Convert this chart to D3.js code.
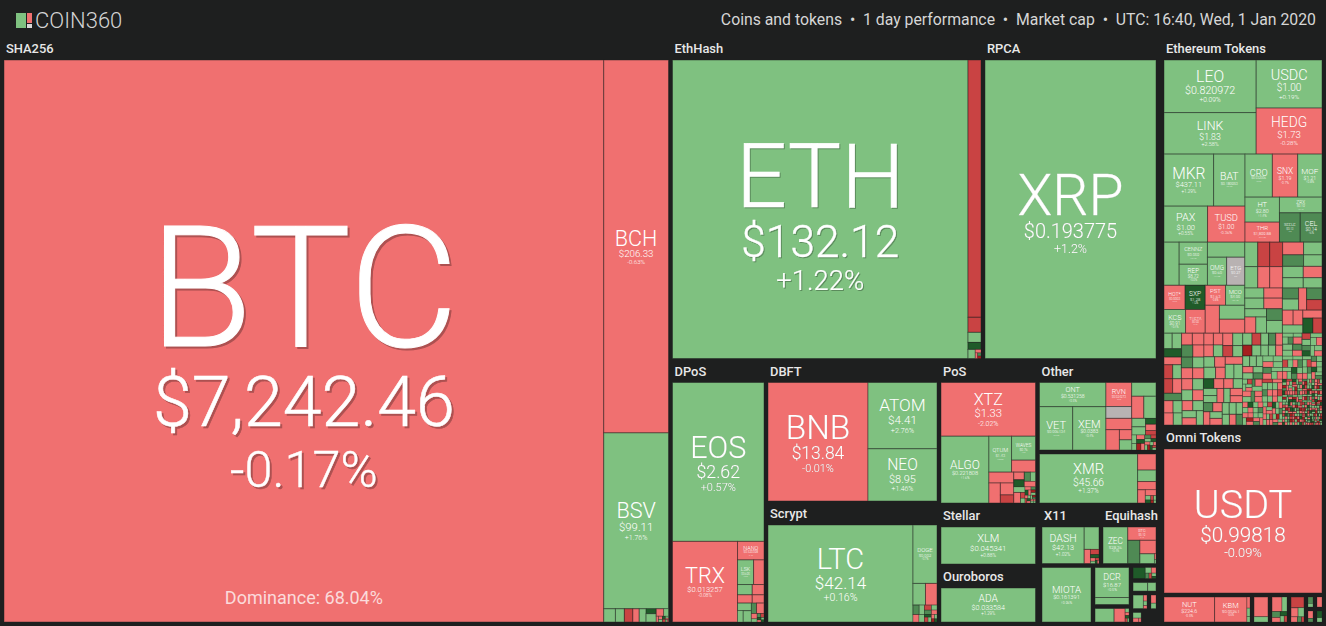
<!DOCTYPE html>
<html>
<head>
<meta charset="utf-8">
<script src="https://cdnjs.cloudflare.com/ajax/libs/d3/7.8.5/d3.min.js"></script>
<style>
html, body { margin: 0; padding: 0; background: #1e1f1f; overflow: hidden; }
text { font-family: Roboto, sans-serif; }
</style>
</head>
<body>
<script>
var width = 1326,
	height = 626;

// rows are [value, % change, name, price], name and price only where the cell is labelled
var sha256Rows = [[336638,-0.17,'BTC','$7,242.46'],[24115,-0.63,'BCH','$206.33'],[11375,1.76,'BSV','$99.11'],
	[154,0.6],[118,0.7],[112,-4.5],[84,-0.5],[90,0.4],[50,12],[84,0.5],[56,-0.5],[35,1],[14,-0.5],[12,-0.6],[10,0.5],[9,13],[8,-7],[6,0.4],[5,-0.5],[4,0.8],[3,-0.4]];
var ethHashRows = [[87910,1.22,'ETH','$132.12'],[3328,-4.6],[195,-4.5],[130,0.5],[91,12],[65,0.6],[20,-0.5],[14,-4],[10,6],[8,-12]];
var rpcaRows = [[50958,1.2,'XRP','$0.193775']];
var dposRows = [[14378,0.57,'EOS','$2.62'],[5184,-0.08,'TRX','$0.013257'],[486,-0.4,'NANO','$0.520398'],[391,0.6,'LSK','$0.695'],[253,-0.7],[150,0.5],[120,-0.4],[120,-0.6],[96,-0.8],[104,0.6],[63,0.4],[91,0.8],[54,6],[78,-0.9],[30,-0.5],[18,0.7],[14,6],[12,-7],[10,12],[8,-0.5],[7,0.7],[6,12]];
var dbftRows = [[11800,-0.01,'BNB','$13.84'],[4554,2.76,'ATOM','$4.41'],[3588,1.46,'NEO','$8.95']];
var scryptRows = [[14210,0.16,'LTC','$42.14'],[1416,0.7,'DOGE','$0.002'],[273,0.6],[252,-0.6],[60,6],[50,0.5],[44,-0.5],[40,0.7],[36,-6],[30,6],[28,0.6],[24,-0.5],[20,12],[18,-7],[16,0.5],[14,-0.4],[12,0.8],[10,-12],[8,12]];
var posRows = [[4888,-2.02,'XTZ','$1.33'],[3082,1.6,'ALGO','$0.221808'],[782,0.8,'QTUM','$1.43'],[552,1,'WAVES','$0.76'],[276,-0.7],[260,-0.6],[220,-0.8],[154,-0.7],[104,-5],[78,-0.5],[72,12],[54,6],[45,0.6],[60,-0.6],[60,0.6],[70,-0.9],
	[24,-7],[20,0.7],[18,-0.4],[16,12],[14,-0.6],[13,6],[12,-12],[11,0.5],[10,-0.5],[9,0.6],[8,-7],[8,12],[7,-0.5],[7,0.5],[6,-12],[6,6],[5,-0.6],[5,0.4],[4,-0.5],[4,0.7]];
var otherRows = [[1584,0.5,'ONT','$0.531258'],[1419,0.6,'VET','$0.006134'],[1419,0.4,'XEM','$0.0383'],[610,-0.9,'RVN','$0.024273'],[300,0],[330,0.7],[265,-0.6],[265,0.5],[290,-0.6],[270,-0.8],[125,-0.5],[125,0.6],[115,0.4],
	[110,0.7],[60,12],[66,-0.6],[44,-7],[40,0.5],[36,-0.6],[32,12],[30,0.6],[28,-12],[24,-0.5],[22,6],[20,0.6],[18,-7],[16,12],[16,-0.5],[14,0.4],[12,-12],[12,0.8],[10,-0.6],[10,12],[8,-7],[8,0.5]];
var cryptoNightRows = [[4560,1.37,'XMR','$45.66'],[280,-0.6],[200,0.7],[144,-0.5],[96,-0.8],[60,-0.6],[22,0.6],[16,12],[12,-7],[10,0.4],[8,-12],[6,0.7]];
var stellarRows = [[3492,0.88,'XLM','$0.045341']];
var ouroborosRows = [[3298,1.29,'ADA','$0.033584']];
var x11Rows = [[1394,1.02,'DASH','$42.13'],[300,0.7],[80,-0.7],[40,-5],[26,12],[14,-0.5],[10,0.6],[8,-7],[6,12],[5,-0.6]];
var equihashRows = [[850,0.4,'ZEC','$28.36'],[352,-0.7,'BTG','$5.19'],[264,6],[204,-0.8],[132,0.6],[8,-0.5],[6,0.7]];
var tangleRows = [[2646,0.96,'MIOTA','$0.161391']];
var decredRows = [[1020,0.5,'DCR','$16.87'],[238,0.7]];
var minorRowsA = [[247,0.6],[143,-0.7],[14,0.5],[12,-0.6],[10,12],[8,-7],[6,0.7]];
var minorRowsB = [[121,12],[30,0.6],[24,-0.7],[18,6],[14,-7],[12,0.5],[8,12]];
var minorRowsC = [[98,0.7],[56,0.5]];
var minorRowsD = [[104,0.6],[16,-0.7],[12,0.4],[8,-0.5]];
var minorRowsE = [[30,-0.6],[20,0.6]];
var minorRowsF = [[60,0.6],[30,-0.6],[12,-0.4]];
var omniRows = [[22752,-0.09,'USDT','$0.99818']];
var omniMinorRowsA = [[1200,-0.5,'NUT','$224.6'],[768,-0.6,'KBM','$0.00261'],[32,-0.5],[24,0.6],[16,0.5]];
var omniMinorRowsB = [[266,-0.7],[70,0.6]];
var omniMinorRowsC = [[120,-0.6],[60,0.7],[40,6],[30,-0.5],[24,12],[20,0.6],[14,-7]];
var omniMinorRowsD = [[130,-4.6],[60,-0.6],[50,0.7],[30,-0.5],[20,6],[12,-7]];
var omniMinorRowsE = [[24,6],[14,0.7]];
var omniMinorRowsF = [[20,-0.5],[10,6]];
var omniMinorRowsG = [[24,-0.6]];
var omniMinorRowsH = [[16,12],[10,0.6]];

var tokenRows = [[4784,0.09,'LEO','$0.820972'],[3772,2.58,'LINK','$1.83'],[3120,0.19,'USDC','$1.00'],[2990,-0.28,'HEDG','$1.73'],
	[2548,1.29,'MKR','$437.11'],[1612,0.9,'BAT','$0.180953'],[1548,0.55,'PAX','$1.00'],[1332,-0.36,'TUSD','$1.00'],
	[1161,0.6,'CRO','$0.032006'],[1075,-0.7,'SNX','$1.19'],[1032,0.8,'MOF','$1.21'],[850,1.4,'HT','$2.80'],[680,-0.57,'THR','$1,899.88'],[660,0.7,'ZRX','$0.19'],[600,6,'SEELE','$0.13'],[630,6,'CEL','$0.14'],
	[645,0.8],[616,0.5,'CENNZ','$0.059'],[588,0.9,'REP','$8.72'],[555,0.8],[532,1.1,'OMG','$0.60'],[504,0,'ETG','$0.27'],
	[504,-0.6,'HOT*','$0.0003'],[480,12,'SXP','$1.28'],[504,0.4,'KCS','$0.91'],[460,-0.5,'THETA','$0.09'],[400,-0.8,'PST','$1.63'],[380,0.7,'MCO','$4.00'],[392,-0.6],[350,0.7],[350,-0.7],
	[312,0.7],[288,-5],[312,-5],[273,0.8],[252,-0.7],[273,-0.6],
	[262,-0.6],[238,6],[231,0.7],[209,0.5],[231,0.6],[209,0.8],[210,-0.5],[190,0.7],
	[190,0.7],[200,0.6],[185,-0.6],[195,-0.5],[176,0.7],[176,-0.8],[170,0.6],[184,6],[200,0.5],
	[176,6],[176,0.7],[176,-0.5],[176,6],[160,-5],[157,-0.7],[143,-0.6],[165,0.5],[150,-0.6],[150,12],[135,-5]];

// long tail of the token block, cut in six runs left to right
var tokenTailValues = [
	126,144,144,126,135,135,132,132,120,120,120,120,121,121,110,110,110,110,121,121,110,110,110,110,132,110,130,124,124,124,
	130,130,120,120,115,115,110,110,110,105,105,105,100,100,100,100,95,95,95,95,90,90,90,90,85,85,85,85,80,80,80,80,75,75,70,70,
	110,105,100,95,90,85,82,80,78,75,72,70,68,66,64,62,60,58,56,54,52,50,48,46,44,42,40,38,36,34,
	62,60,58,56,54,52,50,48,46,45,44,43,42,41,40,39,38,37,36,36,35,35,34,34,33,33,32,32,31,31,30,30,29,29,28,28,27,27,26,26,25,25,24,24,23,23,22,22,21,21,
	50,48,46,44,42,40,39,38,37,36,35,34,33,32,32,31,31,30,30,29,29,28,28,28,27,27,27,26,26,26,25,25,25,24,24,24,23,23,23,22,22,22,21,21,21,20,20,20,19,19,19,18,18,18,17,17,17,16,16,16,
	13,13,12,12,12,12,12,11,11,11,11,11,11,11,11,11,11,11,11,10,
	10,10,10,10,10,10,10,10,10,10,10,10,10,10,10,10,10,10,10,10,
	10,10,10,10,10,10,10,9,9,9,9,9,9,9,9,9,9,9,9,9,
	9,9,9,9,9,9,9,9,9,9,9,9,9,9,9,9,9,9,9,9,
	9,9,9,8,8,8,8,8,8,8,8,8,8,8,8,8,8,8,8,8,
	8,8,8,8,8,8,8,8,8,8,8,8,8,8,8,8,8,8,8,8,
	8,8,8,7,7,7,7,7,7,7,7,7,7,7,7,7,7,7,7,7,
	7,7,7,7,7,7,7,7,7,7,7,7,7,7,7,7,7,7,7,7,
	7,7,7,7,6,6,6,6,6,6,6,6,6,6,6,6,6,6,6,6,
	6,6,6,6,6,6,6,6,6,6,6,6,6,6,6,6,6,6,6,6,
	5,5,5,5,5,5,5,5,5,5,5,5,5,5,5,5,5,5,5,5,
	5,5,5,5,4,4,4,4,4,4,4,4,4,4,4,4,4,4,4,4];
var tokenTailChanges = [
	1,1,12,-1,-1,6,-1,-1,-5,1,6,-1,1,-1,-1,-1,-1,1,-1,1,-5,1,1,-1,1,-1,-1,1,1,-5,
	-1,6,-1,1,1,-1,-1,1,-1,1,-1,1,1,-1,1,12,-1,1,1,-1,-1,1,1,-1,-1,6,-1,-1,1,-1,1,1,1,1,-1,6,
	1,-5,-12,1,1,6,-1,1,1,-1,1,1,1,-1,1,1,6,1,-1,1,1,6,-1,1,1,-1,1,1,6,1,
	-1,1,1,6,-1,-5,1,1,1,-1,6,12,1,1,-1,1,-5,1,1,-1,6,1,-1,1,12,1,6,-1,1,1,-5,6,1,-1,1,1,6,-1,1,12,1,-1,1,6,1,-5,1,1,-1,6,
	-1,1,-1,1,6,-1,-1,-5,1,1,-1,1,-1,6,-1,1,1,-1,-5,-1,1,-1,12,1,-1,1,-1,1,6,-1,-1,1,-12,-1,1,1,-1,6,-1,1,-5,-1,1,-1,12,1,-1,-1,1,6,-1,1,-5,1,-1,-1,1,-12,1,-1,6,1,
	-1,12,1,-5,-1,1,-12,6,-1,1,-1,12,-5,1,-1,6,-1,1,-12,1,
	-1,1,12,-5,1,-1,-1,6,-12,1,1,-1,12,-1,-5,1,6,-1,1,-12,
	12,-1,1,-5,6,-1,-12,1,-1,1,12,-5,-1,1,1,-12,6,-1,1,-1,
	-5,1,-1,12,-1,1,-12,6,1,-1,-5,1,12,-1,1,-1,-12,1,6,-1,
	1,-5,12,-1,1,-12,-1,1,6,-5,-1,12,1,-1,-12,1,1,-5,-1,12,
	-1,6,1,-12,-1,1,-5,12,-1,1,6,-1,-12,1,-5,-1,12,1,-1,6,
	-12,1,-1,-5,12,1,-1,6,-12,1,-5,-1,1,12,-1,6,-12,1,-1,-5,
	1,-1,-12,1,6,-1,12,-5,1,1,-1,-12,-1,1,12,-5,6,1,-1,-1,
	-1,12,1,-5,-12,1,-1,1,6,-1,-5,12,1,-1,-12,1,1,-1,6,12,
	1,-5,-1,12,1,-1,-12,6,-1,1,1,-5,-1,12,-12,1,-1,1,6,-1,
	12,-1,-12,1,-5,1,-1,6,1,12,-1,-5,1,-12,-1,1,6,-1,12,1,
	-5,1,-1,-12,1,12,-1,1,-5,6,-1,1,-12,12,1,-1,-5,1,-1,6];
tokenTailValues.forEach(function(v, i) {
	tokenRows.push([v, tokenTailChanges[i]]);
});

// group name, outer area in the picture (title strip included), cells
var groupNames = ['SHA256','EthHash','RPCA','DPoS','DBFT','Scrypt','PoS','Stellar','Ouroboros','Other','CryptoNight','X11','Equihash','Tangle','Decred','MinorA','MinorB','MinorC','MinorD','MinorE','MinorF','Ethereum Tokens','Omni Tokens','OmniA','OmniB','OmniC','OmniD','OmniE','OmniF','OmniG','OmniH'];
var groupWeights = [391741,100781,56437,25164,24652,20933,14233,6008,5713,11026,6387,3690,3449,3100,1558,665,405,338,315,158,162,63018,27216,2610,522,551,493,126,135,126,135];
var groupCells = [sha256Rows,ethHashRows,rpcaRows,dposRows,dbftRows,scryptRows,posRows,stellarRows,ouroborosRows,otherRows,cryptoNightRows,x11Rows,equihashRows,tangleRows,decredRows,minorRowsA,minorRowsB,minorRowsC,minorRowsD,minorRowsE,minorRowsF,tokenRows,omniRows,omniMinorRowsA,omniMinorRowsB,omniMinorRowsC,omniMinorRowsD,omniMinorRowsE,omniMinorRowsF,omniMinorRowsG,omniMinorRowsH];
var titledGroups = ['SHA256','EthHash','RPCA','DPoS','DBFT','Scrypt','PoS','Stellar','Ouroboros','Other','X11','Equihash','Ethereum Tokens','Omni Tokens'];

// how the groups nest: 'x' cuts side by side, 'y' cuts on top of each other, numbers are blank gutters
var groupTree = ['x', 'SHA256',
	['x',
		['y',
			['x', 'EthHash', 'RPCA'],
			['x',
				['x', 'DPoS', ['y', 'DBFT', 'Scrypt']],
				['x',
					['y', 'PoS', 'Stellar', 'Ouroboros'],
					['y', 'Other', 'CryptoNight',
						['x', 298,
							['y',
								['x', 'X11', 'Equihash'],
								['x', 'Tangle',
									['y', 'Decred', 'MinorA'],
									['y', 'MinorB', 'MinorC', ['x', 'MinorD', 'MinorE'], ['x', 'MinorF', 200]]
								]
							]
						]
					]
				]
			]
		],
		2344,
		['y',
			'Ethereum Tokens', 'Omni Tokens',
			['x', 'OmniA', 'OmniB', 'OmniC', 'OmniD', ['y', 'OmniE', 'OmniF'], ['y', 'OmniG', 'OmniH']]
		]
	]
];

// green / red buckets used by the map
var color = d3.scaleThreshold()
	.domain([-10, -4, 0, 0.0001, 4, 10])
	.range(['#a51f1f', '#c94343', '#f07070', '#b8b2b2', '#7fc180', '#4f8a54', '#1f5b29']);

var svg = d3.select('body').append('svg')
	.attr('width', width)
	.attr('height', height)
	.style('display', 'block');

// logo and header line
var logo = svg.append('g');
logo.append('rect').attr('x', 16).attr('y', 13).attr('width', 10).attr('height', 15).attr('fill', '#7fc180');
logo.append('rect').attr('x', 27).attr('y', 13).attr('width', 5).attr('height', 10).attr('fill', '#f07070');
logo.append('rect').attr('x', 27).attr('y', 24).attr('width', 5).attr('height', 4).attr('fill', '#d8d8d8');
logo.append('text')
	.attr('x', 35).attr('y', 28)
	.attr('fill', '#d4d4d4')
	.style('font-size', '22px')
	.style('font-weight', 300)
	.text('COIN360');

svg.append('text')
	.attr('x', 1316).attr('y', 25)
	.attr('text-anchor', 'end')
	.attr('fill', '#d6d6d6')
	.style('font-size', '15.8px')
	.style('white-space', 'pre')
	.text('Coins and tokens  \u2022  1 day performance  \u2022  Market cap  \u2022  UTC: 16:40, Wed, 1 Jan 2020');

function toNode(t) {
	if (typeof t === 'string') return {name: t, weight: groupWeights[groupNames.indexOf(t)]};
	if (typeof t === 'number') return {weight: t};
	return {dir: t[0], children: t.slice(1).map(toNode)};
}

function cutTile(node, x0, y0, x1, y1) {
	(node.data.dir === 'x' ? d3.treemapDice : d3.treemapSlice)(node, x0, y0, x1, y1);
}

var root = d3.hierarchy(toNode(groupTree)).sum(function(d) { return d.weight || 0; });
d3.treemap().size([1322, 586]).tile(cutTile)(root);

var map = svg.append('g').attr('transform', 'translate(2,38)');

root.leaves().forEach(function(box) {
	if (!box.data.name) return;
	var name = box.data.name,
		titled = titledGroups.indexOf(name) >= 0,
		top = titled ? 22 : 2,
		w = box.x1 - box.x0 - 4,
		h = box.y1 - box.y0 - top - 2;

	var g = map.append('g').attr('transform', 'translate(' + (box.x0 + 2) + ',' + (box.y0 + top) + ')');

	if (titled) {
		g.append('text')
			.attr('x', 2).attr('y', -7)
			.attr('fill', '#e8e8e8')
			.style('font-size', '12.9px')
			.style('font-weight', 500)
			.text(name);
	}

	var rows = groupCells[groupNames.indexOf(name)];
	var cells = d3.hierarchy({children: rows.map(function(r) {
		return {value: r[0], change: r[1], symbol: r[2], price: r[3]};
	})}).sum(function(d) { return d.value || 0; });

	d3.treemap().size([w, h]).tile(d3.treemapBinary)(cells);

	var leaf = g.selectAll('g.cell')
		.data(cells.leaves())
		.enter().append('g')
		.attr('class', 'cell');

	leaf.append('rect')
		.attr('x', function(d) { return d.x0; })
		.attr('y', function(d) { return d.y0; })
		.attr('width', function(d) { return d.x1 - d.x0; })
		.attr('height', function(d) { return d.y1 - d.y0; })
		.attr('fill', function(d) { return color(d.data.change); })
		.attr('stroke', '#1e1f1f')
		.attr('stroke-opacity', 0.45)
		.attr('stroke-width', function(d) { return Math.min(d.x1 - d.x0, d.y1 - d.y0) < 6 ? 0.6 : 1; });

	leaf.filter(function(d) { return d.data.symbol; }).each(function(d) {
		var cw = d.x1 - d.x0,
			ch = d.y1 - d.y0,
			s = d.data.symbol,
			fs = Math.min(0.3 * ch, 0.62 * cw / (0.62 * s.length)),
			ps = Math.min(0.45 * fs + Math.min(4, 0.25 * fs), 1.05 * cw / d.data.price.length),
			cs = (fs > 120 ? 0.72 : 0.62) * ps,
			stack = 0.71 * fs + 1.15 * ps + 1.2 * cs,
			base = (d.y0 + d.y1) / 2 - stack / 2 + Math.max(0, 0.1 * fs - 1.5) + 0.71 * fs,
			cx = (d.x0 + d.x1) / 2,
			t = d3.select(this).append('g')
				.attr('text-anchor', 'middle')
				.attr('fill', '#fff')
				.attr('stroke', fs > 30 ? '#fff' : 'none')
				.style('filter', fs > 30 ? 'drop-shadow(' + fs * 0.014 + 'px ' + fs * 0.014 + 'px 0 rgba(0,0,0,0.28))' : null);

		t.append('text')
			.attr('x', cx).attr('y', base)
			.attr('stroke-width', fs * 0.006)
			.style('font-size', fs + 'px')
			.style('font-weight', 300)
			.text(s);
		t.append('text')
			.attr('x', cx).attr('y', base + 1.15 * ps)
			.attr('stroke-width', ps * 0.008)
			.style('font-size', ps + 'px')
			.style('font-weight', 300)
			.text(d.data.price);
		t.append('text')
			.attr('x', cx).attr('y', base + 1.15 * ps + 1.2 * cs)
			.attr('stroke-width', cs * 0.008)
			.style('font-size', cs + 'px')
			.style('font-weight', 300)
			.text((d.data.change > 0 ? '+' : '') + d.data.change + '%');

		if (s === 'BTC') {
			d3.select(this).append('text')
				.attr('x', cx).attr('y', d.y1 - 18)
				.attr('text-anchor', 'middle')
				.attr('fill', '#fff')
				.attr('fill-opacity', 0.75)
				.style('font-size', '18px')
				.text('Dominance: 68.04%');
		}
	});
});
</script>
</body>
</html>
